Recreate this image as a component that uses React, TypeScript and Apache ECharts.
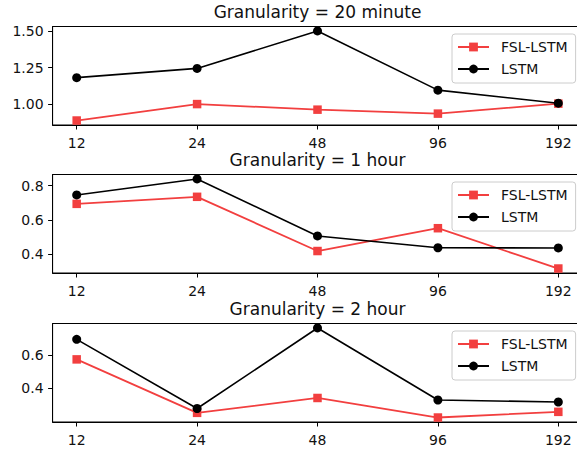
import React, { useEffect, useRef } from 'react';
import * as echarts from 'echarts';

const horizons = ['12', '24', '48', '96', '192'];
const titles = ['Granularity = 20 minute', 'Granularity = 1 hour', 'Granularity = 2 hour'];
const seriesNames = ['FSL-LSTM', 'LSTM'];

const fslLstm20min = [0.89, 1.002, 0.964, 0.937, 1.005];
const lstm20min = [1.182, 1.245, 1.5, 1.097, 1.008];
const fslLstm1h = [0.694, 0.735, 0.419, 0.552, 0.317];
const lstm1h = [0.746, 0.839, 0.507, 0.438, 0.437];
const fslLstm2h = [0.573, 0.253, 0.342, 0.225, 0.259];
const lstm2h = [0.693, 0.279, 0.761, 0.33, 0.318];

const yTicks20min = [1.0, 1.25, 1.5];
const yTicks1h = [0.4, 0.6, 0.8];
const yTicks2h = [0.4, 0.6];

const panels = [
  { title: titles[0], fsl: fslLstm20min, lstm: lstm20min, ticks: yTicks20min, dec: 2 },
  { title: titles[1], fsl: fslLstm1h, lstm: lstm1h, ticks: yTicks1h, dec: 1 },
  { title: titles[2], fsl: fslLstm2h, lstm: lstm2h, ticks: yTicks2h, dec: 1 },
];

const FONT = 'DejaVu Sans';
const RED = '#f23f3f';
const gridTops = [26.5, 174.5, 323.5];
const GRID_LEFT = 52.6;
const GRID_W = 529.8;
const GRID_H = 98.5;

export default function App() {
  const ref = useRef<HTMLDivElement>(null);
  useEffect(() => {
    if (!ref.current) return;
    const chart = echarts.init(ref.current, null, { renderer: 'svg' });
    const xIdx = horizons.map((_, j) => j);
    const grids: any[] = [];
    const xAxes: any[] = [];
    const yAxes: any[] = [];
    const series: any[] = [];
    const legends: any[] = [];
    const graphics: any[] = [];
    panels.forEach((p, i) => {
      const all = p.fsl.concat(p.lstm);
      const dmin = Math.min(...all);
      const dmax = Math.max(...all);
      const r = dmax - dmin;
      grids.push({
        left: GRID_LEFT, top: gridTops[i], width: GRID_W, height: GRID_H,
        show: true, borderColor: '#000', borderWidth: 1, backgroundColor: 'transparent',
      });
      xAxes.push({
        type: 'value', gridIndex: i, min: -0.2, max: 4.2,
        splitLine: { show: false },
        axisLine: { show: true, onZero: false, lineStyle: { color: '#000', width: 1 } },
        axisTick: { show: true, customValues: xIdx, length: 4.5, lineStyle: { color: '#000', width: 1 } },
        axisLabel: {
          customValues: xIdx, formatter: (v: number) => horizons[Math.round(v)],
          fontSize: 14, color: '#111', fontFamily: FONT, margin: 11,
        },
      });
      yAxes.push({
        type: 'value', gridIndex: i, min: dmin - 0.05 * r, max: dmax + 0.05 * r,
        splitLine: { show: false },
        axisLine: { show: true, onZero: false, lineStyle: { color: '#000', width: 1 } },
        axisTick: { show: true, customValues: p.ticks, length: 4.5, lineStyle: { color: '#000', width: 1 } },
        axisLabel: {
          customValues: p.ticks, formatter: (v: number) => v.toFixed(p.dec),
          fontSize: 14, color: '#111', fontFamily: FONT, margin: 9,
        },
      });
      series.push({
        type: 'line', name: seriesNames[0], xAxisIndex: i, yAxisIndex: i,
        data: xIdx.map((j) => [j, p.fsl[j]]),
        symbol: 'rect', symbolSize: 8.5, showAllSymbol: true,
        lineStyle: { color: RED, width: 1.8 }, itemStyle: { color: RED },
        color: RED, z: 2,
      });
      series.push({
        type: 'line', name: seriesNames[1], xAxisIndex: i, yAxisIndex: i,
        data: xIdx.map((j) => [j, p.lstm[j]]),
        symbol: 'circle', symbolSize: 9, showAllSymbol: true,
        lineStyle: { color: '#000', width: 1.6 }, itemStyle: { color: '#000' },
        color: '#000', z: 3,
      });
      legends.push({
        orient: 'vertical', left: 452, top: gridTops[i] + 7.5,
        data: seriesNames, itemWidth: 31, itemHeight: 11, itemGap: 6,
        padding: [5, 8, 6, 5],
        backgroundColor: 'rgba(255,255,255,0.8)', borderColor: '#cccccc', borderWidth: 1, borderRadius: 3,
        selectedMode: false,
        textStyle: { fontSize: 14, fontFamily: FONT, color: '#111', lineHeight: 16, padding: [0, 0, 0, 7] },
      });
      graphics.push({
        type: 'text', x: GRID_LEFT + GRID_W / 2, y: gridTops[i] - 15,
        style: {
          text: p.title, font: `17px "${FONT}"`, fill: '#111',
          textAlign: 'center', textVerticalAlign: 'middle',
        },
      });
    });
    chart.setOption({
      animation: false,
      backgroundColor: '#fff',
      grid: grids,
      xAxis: xAxes,
      yAxis: yAxes,
      series,
      legend: legends,
      graphic: graphics,
    });
    return () => chart.dispose();
  }, []);
  return (
    <div style={{ position: 'fixed', left: 0, top: 0, width: 577, height: 453, overflow: 'hidden', background: '#fff' }}>
      <div ref={ref} style={{ width: 600, height: 453 }} />
    </div>
  );
}
